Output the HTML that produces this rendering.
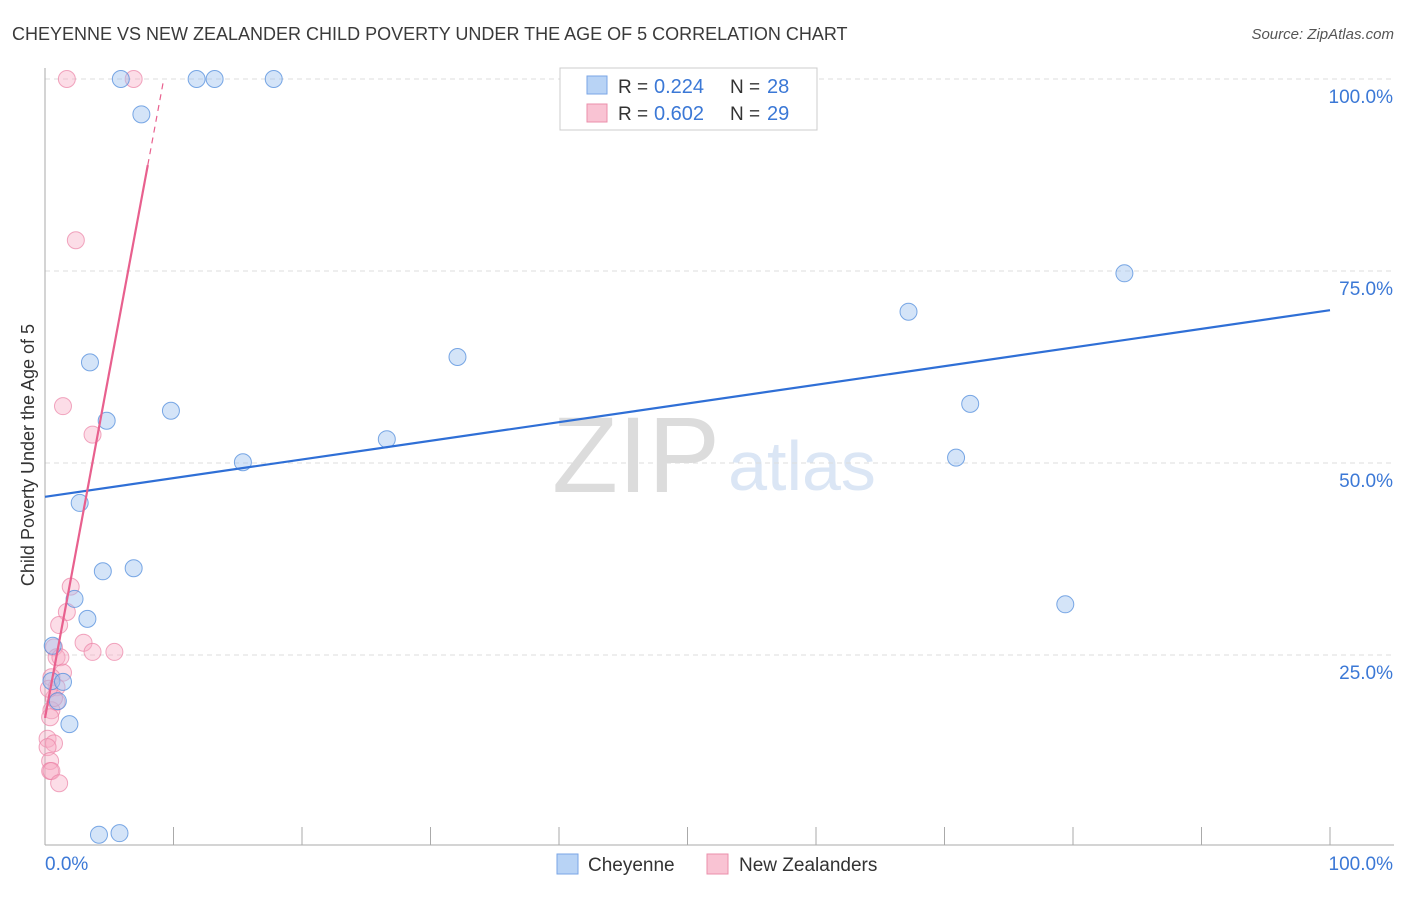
<!DOCTYPE html>
<html><head><meta charset="utf-8"><style>
body{margin:0;background:#fff;font-family:"Liberation Sans",sans-serif}
svg text{font-family:"Liberation Sans",sans-serif}
</style></head><body>
<svg id="chart" width="1406" height="892">
<text x="12" y="40" font-size="18" fill="#3a3a3a">CHEYENNE VS NEW ZEALANDER CHILD POVERTY UNDER THE AGE OF 5 CORRELATION CHART</text>
<text x="1394" y="39" font-size="15" fill="#555" font-style="italic" text-anchor="end">Source: ZipAtlas.com</text>
<text x="636" y="492" font-size="108" fill="#dcdcdc" text-anchor="middle" font-family="Liberation Serif">ZIP</text>
<text x="802" y="490" font-size="70" fill="#dbe6f5" text-anchor="middle">atlas</text>
<g id="grid"></g><g id="axes"></g><g id="marks"></g>
<text transform="translate(34,455) rotate(-90)" font-size="18" fill="#333" text-anchor="middle">Child Poverty Under the Age of 5</text>
<g>
<rect x="560" y="68" width="257" height="62" fill="#fff" stroke="#ccc"/>
<rect x="587" y="76" width="20" height="18" fill="#b8d3f5" stroke="#7aa6e6"/>
<rect x="587" y="104" width="20" height="18" fill="#f9c3d3" stroke="#eb8fab"/>
<text x="618" y="93" font-size="19" fill="#333">R =</text><text x="654" y="93" font-size="20" fill="#3b78d6">0.224</text>
<text x="730" y="93" font-size="19" fill="#333">N =</text><text x="767" y="93" font-size="20" fill="#3b78d6">28</text>
<text x="618" y="120" font-size="19" fill="#333">R =</text><text x="654" y="120" font-size="20" fill="#3b78d6">0.602</text>
<text x="730" y="120" font-size="19" fill="#333">N =</text><text x="767" y="120" font-size="20" fill="#3b78d6">29</text>
</g>
<g>
<rect x="557" y="854" width="21" height="20" fill="#b8d3f5" stroke="#7aa6e6"/>
<text x="588" y="871" font-size="19" fill="#333">Cheyenne</text>
<rect x="707" y="854" width="21" height="20" fill="#f9c3d3" stroke="#eb8fab"/>
<text x="739" y="871" font-size="19" fill="#333">New Zealanders</text>
</g>
</svg>
<script>
const yTicks=[25,50,75,100];
const yTickLabels=["25.0%","50.0%","75.0%","100.0%"];
const cheyX=[5.9,7.5,11.8,13.2,17.8,3.5,4.8,9.8,15.4,26.6,32.1,2.7,4.5,6.9,2.3,3.3,0.6,0.5,1.4,1.0,1.9,4.2,5.8,67.2,72.0,70.9,84.0,79.4];
const cheyY=[100,95.4,100,100,100,63.1,55.5,56.8,50.1,53.1,63.8,44.8,35.9,36.3,32.3,29.7,26.2,21.6,21.5,19.0,16.0,1.6,1.8,69.7,57.7,50.7,74.7,31.6];
const nzX=[1.7,6.9,2.4,1.4,3.7,2.0,1.7,1.1,3.0,3.7,5.4,0.7,0.9,1.2,1.4,0.5,0.9,0.9,0.5,0.2,0.7,0.2,0.4,0.4,0.5,1.1,0.7,0.3,0.4];
const nzY=[100,100,79.0,57.4,53.7,33.9,30.6,28.9,26.6,25.4,25.4,26.0,24.7,24.7,22.7,22.1,20.8,18.9,17.8,14.1,13.5,13.0,11.2,9.9,9.9,8.3,19.4,20.6,16.9];
const cheyTrend=[45.6,69.9];
const nzTrend=[16.8,9.0];
const X=v=>45+v*12.85, Y=v=>847-v*7.68;
const NS="http://www.w3.org/2000/svg";
function mk(t,a,p){const e=document.createElementNS(NS,t);for(const k in a)e.setAttribute(k,a[k]);p.appendChild(e);return e;}
const grid=document.getElementById('grid'),axes=document.getElementById('axes'),marks=document.getElementById('marks');
yTicks.forEach((t,i)=>{
 const l=mk('line',{x1:45,x2:1394,y1:Y(t),y2:Y(t),stroke:'#ddd','stroke-dasharray':'5,4'},grid);
 
 
 const tx=mk('text',{x:1393,y:Y(t)+24,'font-size':19,fill:'#3b78d6','text-anchor':'end'},axes);tx.textContent=yTickLabels[i];
 
 
});
mk('line',{x1:45,x2:45,y1:68,y2:845,stroke:'#aaa'},axes);
mk('line',{x1:45,x2:1394,y1:845,y2:845,stroke:'#aaa'},axes);
for(let i=1;i<=10;i++){mk('line',{x1:X(i*10),x2:X(i*10),y1:827,y2:845,stroke:'#aaa'},axes);}
let t0=mk('text',{x:45,y:870,'font-size':19,fill:'#3b78d6'},axes);t0.textContent='0.0%';

let t1=mk('text',{x:1393,y:870,'font-size':19,fill:'#3b78d6','text-anchor':'end'},axes);t1.textContent='100.0%';

nzX.forEach((x,i)=>{const c=mk('circle',{cx:X(x),cy:Y(nzY[i]),r:8.5,fill:'rgba(247,170,195,0.4)',stroke:'rgba(235,130,165,0.7)'},marks);
 
 });
cheyX.forEach((x,i)=>{const c=mk('circle',{cx:X(x),cy:Y(cheyY[i]),r:8.5,fill:'rgba(160,195,240,0.45)',stroke:'rgba(80,140,220,0.75)'},marks);
 
 });
const bl=mk('line',{x1:X(0),y1:Y(cheyTrend[0]),x2:X(100),y2:Y(cheyTrend[1]),stroke:'#2f6fd6','stroke-width':2.2},marks);


const xe=8.0, xd=(100-nzTrend[0])/nzTrend[1];
const pl=mk('line',{x1:X(0),y1:Y(nzTrend[0]),x2:X(xe),y2:Y(nzTrend[0]+nzTrend[1]*xe),stroke:'#e8608e','stroke-width':2.2},marks);


const pd=mk('line',{x1:X(xe),y1:Y(nzTrend[0]+nzTrend[1]*xe),x2:X(xd),y2:Y(100),stroke:'#e8608e','stroke-width':1.2,'stroke-dasharray':'6,5'},marks);


</script>
</body></html>
